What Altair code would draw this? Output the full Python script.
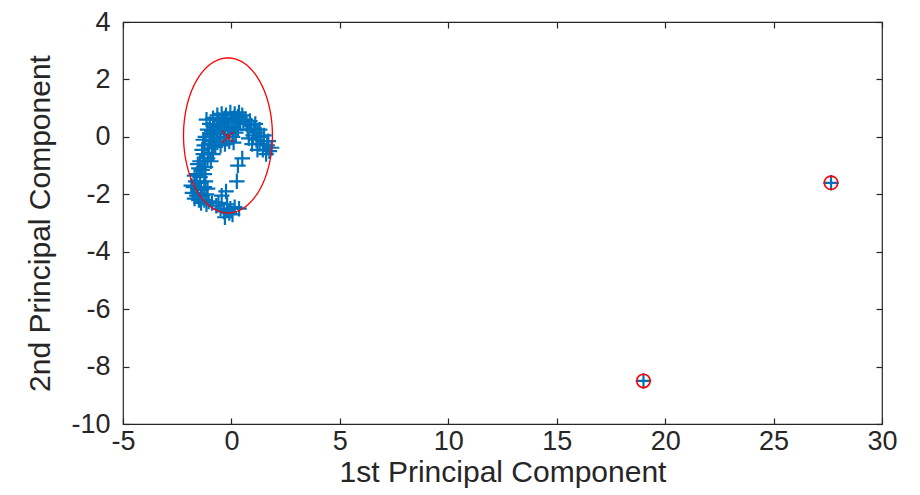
import altair as alt
import numpy as np
import pandas as pd

# ---- data ----
pc1 = [
    -1.0, -0.85, -0.65, -0.45, -0.25, -0.05, 0.15, 0.35, 0.5, 0.65,
    -1.1, -0.8, -0.6, -0.4, -0.2, 0.0, 0.2, 0.4, 0.7, 0.9,
    -1.2, -0.95, -0.7, -0.5, -0.3, -0.1, 0.1, 0.3,
    -1.25, -1.0, -0.8, -0.55, -0.35, -0.15, 0.05,
    -1.05, -0.75, -0.5, -0.3, -0.1, 0.1,
    1.05, 1.2, 1.0, 1.35, 1.15, 1.5, 1.3, 1.65, 1.85, 1.45, 1.6, 1.75, 0.8, 0.95, 1.2, 0.75,
    -1.3, -1.05, -0.85, -1.45, -1.25, -1.5, -1.35, -1.6, -1.45, -1.65, -1.45, -1.75, -1.55, -1.4,
    -1.8, -1.6, -1.35, -1.5, -1.25, -1.15, -1.05, -0.9,
    -0.7, -0.5, -0.35, -0.2, -0.3, -0.05, 0.15, 0.35, -0.1,
    -0.45, 0.3, 0.25, 0.5, -0.25,
    -1.2, -1.25, -1.2, -1.25, -1.1, -1.7, -1.85, -1.7, -1.4, -1.15, -0.95, -1.1, -1.55,
    -0.9, -0.6, -0.3, 0.1, 0.3, 0.55, 0.85, -0.45, -0.15, 0.2, -0.65, -0.9, 1.1, 1.3,
    1.5, 1.7, -1.15, -1.3, -1.35,
    -0.6, -0.2, 0.05,
    19.0, 27.65,
]
pc2 = [
    0.45, 0.65, 0.75, 0.8, 0.75, 0.85, 0.8, 0.85, 0.75, 0.6,
    0.25, 0.35, 0.45, 0.55, 0.5, 0.6, 0.55, 0.5, 0.45, 0.4,
    0.0, 0.1, 0.15, 0.25, 0.3, 0.3, 0.35, 0.25,
    -0.3, -0.15, -0.1, -0.05, 0.0, 0.1, 0.0,
    -0.4, -0.35, -0.3, -0.25, -0.15, -0.2,
    0.3, 0.15, 0.05, 0.0, -0.1, -0.15, -0.25, -0.3, -0.38, -0.45, -0.6, -0.5, -0.05, -0.25, -0.45, 0.25,
    -0.6, -0.55, -0.6, -0.85, -0.85, -1.1, -1.15, -1.3, -1.4, -1.55, -1.6, -1.75, -1.8, -1.85,
    -1.95, -2.05, -2.05, -2.2, -2.2, -2.0, -2.25, -2.3,
    -2.4, -2.5, -2.6, -2.55, -2.8, -2.5, -2.45, -2.5, -2.65,
    -2.05, -1.0, -1.55, -0.75, -1.9,
    -1.05, -1.3, -1.55, -1.75, -1.8, -1.35, -1.7, -2.15, -2.3, -2.35, -0.85, -0.75, -0.95,
    0.2, 0.6, 0.65, 0.65, 0.7, 0.55, 0.55, 0.4, 0.2, 0.15, -0.2, -0.25, 0.45, 0.25,
    0.05, -0.15, 0.6, -0.1, -0.45,
    -2.3, -2.35, -2.7,
    -8.5, -1.6,
]
outlier_pc1 = [19.0, 27.65]
outlier_pc2 = [-8.5, -1.6]
center_pc1 = [-0.15]
center_pc2 = [0.0]
ellipse_center = (-0.16, 0.05)
ellipse_radii = (2.05, 2.7)
x_ticks = [-5, 0, 5, 10, 15, 20, 25, 30]
y_ticks = [-10, -8, -6, -4, -2, 0, 2, 4]

# ---- tables ----
df = pd.DataFrame({"pc1": pc1, "pc2": pc2})
df_out = pd.DataFrame({"pc1": outlier_pc1, "pc2": outlier_pc2})
df_c = pd.DataFrame({"pc1": center_pc1, "pc2": center_pc2})
t = np.linspace(0, 2 * np.pi, 121)
df_e = pd.DataFrame({
    "pc1": ellipse_center[0] + ellipse_radii[0] * np.cos(t),
    "pc2": ellipse_center[1] + ellipse_radii[1] * np.sin(t),
    "k": np.arange(len(t)),
})

W, H = 759, 402
FONT = "Liberation Sans"
INK = "#262626"
BLUE = "#0072BD"
RED = "#FF0000"
HYPHEN = "replace(datum.label, '\u2212', '-')"

xs = alt.Scale(domain=[-5, 30], nice=False, zero=False)
ys = alt.Scale(domain=[-10, 4], nice=False, zero=False)

x_main = alt.Axis(values=x_ticks, ticks=False, tickSize=0, domain=False, grid=False,
                  labelFontSize=27, labelColor=INK, labelFont=FONT, labelPadding=4,
                  labelExpr=HYPHEN,
                  title="1st Principal Component", titleFontSize=30, titleFont=FONT,
                  titleColor=INK, titleFontWeight="normal", titlePadding=3, labelFlush=False)
y_main = alt.Axis(values=y_ticks, ticks=False, tickSize=0, domain=False, grid=False,
                  labelFontSize=27, labelColor=INK, labelFont=FONT, labelPadding=13,
                  labelExpr=HYPHEN,
                  title="2nd Principal Component", titleFontSize=30, titleFont=FONT,
                  titleColor=INK, titleFontWeight="normal", titlePadding=15, labelFlush=False)


def tick_axis(values, orient, offset):
    return alt.Axis(values=values, orient=orient, offset=offset, labels=False, title=None,
                    domain=False, grid=False, ticks=True, tickSize=6, tickColor=INK, tickWidth=1.2)


PLUS = "M-1,0L1,0M0,-1L0,1"
XMARK = "M-1,-1L1,1M-1,1L1,-1"

pts = alt.Chart(df).mark_point(shape=PLUS, size=240, strokeWidth=2.2, color=BLUE,
                               filled=False, opacity=1).encode(
    x=alt.X("pc1:Q", scale=xs, axis=x_main),
    y=alt.Y("pc2:Q", scale=ys, axis=y_main),
)

ell = alt.Chart(df_e).mark_line(color=RED, strokeWidth=1.3).encode(
    x=alt.X("pc1:Q", scale=xs, axis=None),
    y=alt.Y("pc2:Q", scale=ys, axis=None),
    order="k:Q",
)

cen = alt.Chart(df_c).mark_point(shape=XMARK, size=130, strokeWidth=1.6, color=RED,
                                 filled=False, opacity=1, strokeDash=[3, 1]).encode(
    x=alt.X("pc1:Q", scale=xs, axis=None),
    y=alt.Y("pc2:Q", scale=ys, axis=None),
)

circ = alt.Chart(df_out).mark_point(shape="circle", size=180, strokeWidth=1.6, color=RED,
                                    filled=False, opacity=1).encode(
    x=alt.X("pc1:Q", scale=xs, axis=None),
    y=alt.Y("pc2:Q", scale=ys, axis=None),
)

ticks_a = alt.Chart(df_out).mark_point(opacity=0, size=1).encode(
    x=alt.X("pc1:Q", scale=xs, axis=tick_axis(x_ticks, "top", -H)),
    y=alt.Y("pc2:Q", scale=ys, axis=tick_axis(y_ticks, "right", -W)),
)
ticks_b = alt.Chart(df_out).mark_point(opacity=0, size=1).encode(
    x=alt.X("pc1:Q", scale=xs, axis=tick_axis(x_ticks, "bottom", -H)),
    y=alt.Y("pc2:Q", scale=ys, axis=tick_axis(y_ticks, "left", -W)),
)

chart = alt.layer(pts, ell, cen, circ, ticks_a, ticks_b).resolve_axis(
    x="independent", y="independent"
).properties(
    width=W, height=H,
    autosize=alt.AutoSizeParams(type="none"),
    padding={"left": 115, "top": 14, "right": 30, "bottom": 70},
    background="white",
).configure_view(stroke=INK, strokeWidth=1.2)

chart.save("out.html", embed_options={"renderer": "svg", "actions": False})
